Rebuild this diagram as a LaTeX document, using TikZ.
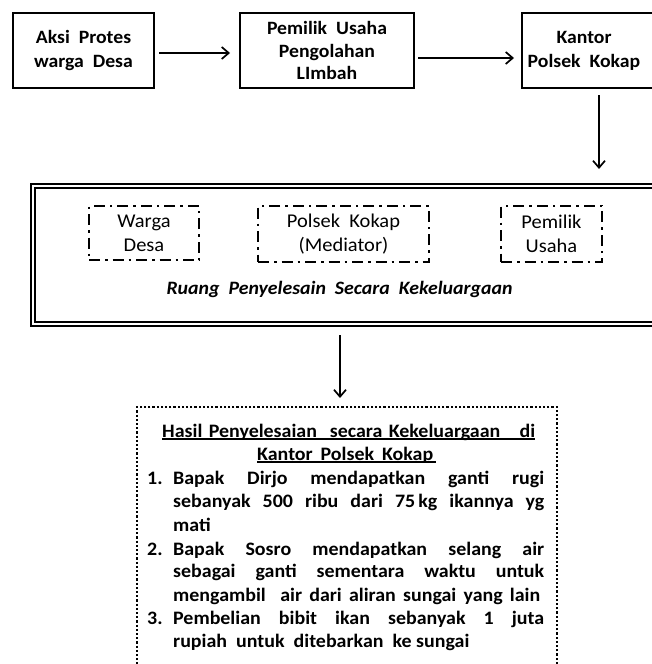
\documentclass[tikz,border=0pt]{standalone}
\usepackage{fontspec}
\setmainfont{Carlito}[FakeStretch=1.05]
\usetikzlibrary{arrows.meta,calc}
\newcommand\ulbox[2]{\makebox[0pt][l]{\rule[-2.5pt]{#1}{1.3pt}}#2}
\begin{document}
\begin{tikzpicture}[x=1pt,y=-1pt,
  boxsolid/.style={draw, line width=2.2pt, inner sep=0pt, outer sep=0pt},
  topfont/.style={font=\fontsize{18.8}{24}\selectfont\bfseries, align=center},
  ddbox/.style={draw, line width=2.5pt, dash pattern=on 11pt off 5pt on 2.5pt off 5pt, inner sep=0pt, outer sep=0pt},
  midfont/.style={font=\fontsize{19.5}{24}\selectfont, align=center},
  dblbox/.style={draw, double, line width=1.9pt, double distance=2pt, inner sep=0pt, outer sep=0pt},
  dotbox/.style={draw, line width=2.5pt, dash pattern=on 2.2pt off 2pt, inner sep=0pt, outer sep=0pt},
  arr/.style={line width=1.7pt, -{Straight Barb[length=7pt,width=12pt]}},
  ln/.style={anchor=base west, inner sep=0pt, font=\fontsize{19}{23}\selectfont\bfseries},
]
\useasboundingbox (0,0) rectangle (651,664);

% top row
\node[boxsolid, minimum width=141pt, minimum height=75pt, topfont] (b1) at (83.5,50.5) {Aksi\ \ Protes\\warga\ \ Desa};
\node[boxsolid, minimum width=174pt, minimum height=75pt, topfont, font=\fontsize{18.8}{22.5}\selectfont\bfseries] (b2) at (327,50.5) {Pemilik\ \ Usaha\\Pengolahan\\LImbah};
\node[boxsolid, minimum width=178pt, minimum height=75pt] (b3) at (611,50.5) {};
\node[topfont, inner sep=0pt] (b3t) at (584,50.5) {Kantor\\Polsek\ \ Kokap};

\draw[arr] ($(b1.east)+(5,2.5)$) -- ($(b2.west)+(-10,2.5)$);
\draw[arr] ($(b2.east)+(4,7.5)$) -- ($(b3.west)+(-8,7.5)$);

% middle double box
\node[dblbox, minimum width=667.2pt, minimum height=138.4pt] (ruang) at (366.4,255) {};
\coordinate (ax1) at (599,0);
\draw[arr] ($(b3.south -| ax1)+(0,7)$) -- ($(ruang.north -| ax1)+(0,-16.8)$);

\node[ddbox, minimum width=110pt, minimum height=54pt, midfont] (w) at (144,233) {Warga\\Desa};
\node[ddbox, minimum width=171pt, minimum height=56pt, midfont] (p) at (343.5,234) {Polsek\ \ Kokap\\(Mediator)};
\node[ddbox, minimum width=101pt, minimum height=56pt, midfont] (u) at (551.5,234) {Pemilik\\Usaha};
\node[anchor=base, inner sep=0pt, font=\fontsize{18.9}{20}\selectfont\bfseries\itshape] (rt) at (339.5,294) {Ruang\ \ Penyelesain\ \ Secara\ \ Kekeluargaan};

% bottom dotted box
\node[dotbox, minimum width=420pt, minimum height=320pt, anchor=north west] (hasil) at (137,407) {};
\coordinate (ax2) at (340,0);
\draw[arr] ($(ruang.south -| ax2)+(0,10.8)$) -- ($(hasil.north -| ax2)+(0,-9)$);

\node[ln] (h1) at (162,437) {\ulbox{373pt}{\makebox[373pt][s]{Hasil Penyelesaian\ \ secara Kekeluargaan\ \ \ di}}};
\node[ln] (h2) at (257,460) {\ulbox{179pt}{\makebox[176pt][s]{Kantor\ \ Polsek\ \ Kokap}}};
\node[ln] (n1) at (147,484) {1.};
\node[ln] (t1) at (173,484) {\makebox[371pt][s]{Bapak Dirjo mendapatkan ganti rugi}};
\node[ln] (t2) at (173,507) {\makebox[371pt][s]{sebanyak 500 ribu dari 75\,kg ikannya yg}};
\node[ln] (t3) at (173,531) {mati};
\node[ln] (n2) at (147,555) {2.};
\node[ln] (t4) at (173,555) {\makebox[371pt][s]{Bapak Sosro mendapatkan selang air}};
\node[ln] (t5) at (173,577) {\makebox[371pt][s]{sebagai ganti sementara waktu untuk}};
\node[ln] (t6) at (173,601) {\makebox[367pt][s]{mengambil\ \ air dari aliran sungai yang lain}};
\node[ln] (n3) at (147,624) {3.};
\node[ln] (t7) at (173,624) {\makebox[371pt][s]{Pembelian bibit ikan sebanyak 1 juta}};
\node[ln] (t8) at (173,647) {rupiah\ \ untuk\ \ ditebarkan\ \ ke sungai};
\end{tikzpicture}
\end{document}
